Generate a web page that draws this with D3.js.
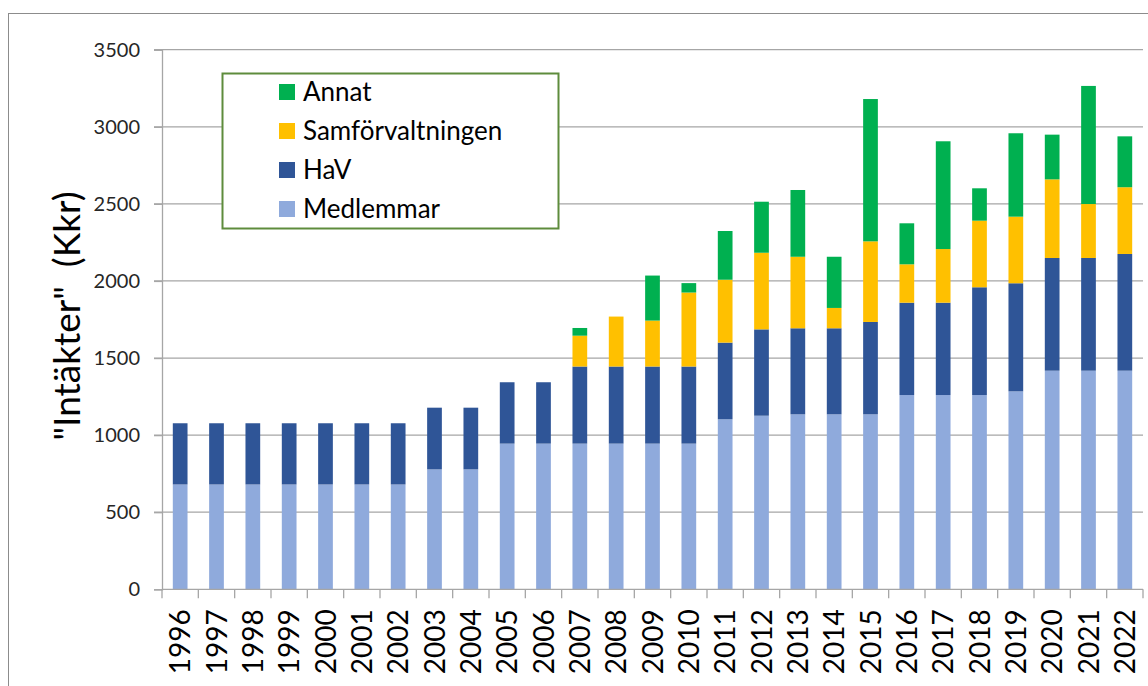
<!DOCTYPE html>
<html>
<head>
<meta charset="utf-8">
<script src="https://cdn.jsdelivr.net/npm/d3@7"></script>
<style>
  body { margin: 0; background: #fff; }
  svg { display: block; }
</style>
</head>
<body>
<div id="chart"></div>
<script>
// data (Kkr)
const years = ["1996","1997","1998","1999","2000","2001","2002","2003","2004","2005","2006","2007","2008","2009","2010","2011","2012","2013","2014","2015","2016","2017","2018","2019","2020","2021","2022"];
const medlemmar = [680,680,680,680,680,680,680,778,778,945,945,945,945,945,945,1103,1126,1135,1135,1135,1260,1260,1260,1284,1418,1418,1418];
const hav       = [397,397,397,397,397,397,397,400,400,398,398,500,500,500,500,497,560,558,558,599,599,599,699,701,731,731,757];
const samf      = [0,0,0,0,0,0,0,0,0,0,0,200,324,298,480,408,497,464,132,523,249,348,432,432,510,350,433];
const annat     = [0,0,0,0,0,0,0,0,0,0,0,50,0,292,61,316,331,433,332,923,266,699,210,541,290,766,330];
const yTicks = [0,500,1000,1500,2000,2500,3000,3500];

const seriesNames = ["Medlemmar","HaV","Samförvaltningen","Annat"];
const colors = {"Medlemmar":"#8FAADC","HaV":"#2F5597","Samförvaltningen":"#FFC000","Annat":"#00B050"};

const W = 1148, H = 686;
const plot = {left: 162, right: 1143, top: 49.7, bottom: 589.3};

const svg = d3.select("#chart").append("svg")
  .attr("width", W).attr("height", H);

// outer chart frame
svg.append("rect")
  .attr("x", 8.5).attr("y", 13.5)
  .attr("width", W + 20).attr("height", H + 20)
  .attr("fill", "#fff").attr("stroke", "#8c8c8c").attr("stroke-width", 1);

const x = d3.scaleBand()
  .domain(years)
  .range([plot.left, plot.right])
  .paddingInner(0.595).paddingOuter(0.2975);

const y = d3.scaleLinear()
  .domain([0, 3500])
  .range([plot.bottom, plot.top]);

// gridlines
svg.append("g")
  .selectAll("line")
  .data(yTicks.filter(d => d > 0))
  .join("line")
  .attr("x1", plot.left - 8).attr("x2", plot.right)
  .attr("y1", d => y(d)).attr("y2", d => y(d))
  .attr("stroke", "#a6a6a6").attr("stroke-width", 1.3);

// stacked bars
const table = years.map((yr, i) => ({
  year: yr,
  "Medlemmar": medlemmar[i],
  "HaV": hav[i],
  "Samförvaltningen": samf[i],
  "Annat": annat[i]
}));
const stacked = d3.stack().keys(seriesNames)(table);

svg.append("g")
  .selectAll("g")
  .data(stacked)
  .join("g")
  .attr("fill", d => colors[d.key])
  .selectAll("rect")
  .data(d => d.filter(s => s[1] > s[0]))
  .join("rect")
  .attr("x", d => x(d.data.year))
  .attr("width", x.bandwidth())
  .attr("y", d => y(d[1]))
  .attr("height", d => y(d[0]) - y(d[1]));

// y axis
const yAxis = svg.append("g")
  .attr("transform", `translate(${plot.left},0)`)
  .call(d3.axisLeft(y).tickValues(yTicks).tickSize(8).tickPadding(14).tickFormat(d3.format("d")));
yAxis.select(".domain").attr("stroke", "#a6a6a6").attr("stroke-width", 1.3);
yAxis.selectAll(".tick line").attr("stroke", "#a6a6a6").attr("stroke-width", 1.3);
yAxis.selectAll(".tick text")
  .attr("font-family", "Lato, 'Open Sans', sans-serif")
  .attr("font-size", 20).attr("fill", "#262626");

// x axis: ticks sit on category boundaries
const xAxisG = svg.append("g");
xAxisG.append("line")
  .attr("x1", plot.left).attr("x2", plot.right)
  .attr("y1", plot.bottom).attr("y2", plot.bottom)
  .attr("stroke", "#a6a6a6").attr("stroke-width", 1.3);
const step = x.step();
xAxisG.selectAll("line.tk")
  .data(years.concat(["end"]))
  .join("line")
  .attr("class", "tk")
  .attr("x1", (d, i) => plot.left + i * step)
  .attr("x2", (d, i) => plot.left + i * step)
  .attr("y1", plot.bottom).attr("y2", plot.bottom + 9)
  .attr("stroke", "#a6a6a6").attr("stroke-width", 1.3);
xAxisG.selectAll("text")
  .data(years)
  .join("text")
  .attr("transform", d => `translate(${x(d) + x.bandwidth() / 2},${plot.bottom + 20}) rotate(-90)`)
  .attr("text-anchor", "end")
  .attr("dy", "0.36em")
  .attr("font-family", "Lato, 'Open Sans', sans-serif")
  .attr("font-size", 28).attr("fill", "#000")
  .text(d => d);

// y title
svg.append("text")
  .attr("transform", `translate(80,316) rotate(-90)`)
  .attr("text-anchor", "middle")
  .attr("font-family", "Lato, 'Open Sans', sans-serif")
  .attr("font-size", 37).attr("fill", "#000")
  .style("white-space", "pre")
  .text('"Intäkter"  (Kkr)');

// legend
const legend = svg.append("g");
legend.append("rect")
  .attr("x", 222.5).attr("y", 73.5).attr("width", 336).attr("height", 155)
  .attr("fill", "#fff").attr("stroke", "#5e8c3c").attr("stroke-width", 2);
const legendOrder = ["Annat","Samförvaltningen","HaV","Medlemmar"];
const row = legend.selectAll("g")
  .data(legendOrder)
  .join("g")
  .attr("transform", (d, i) => `translate(279,${92 + i * 39})`);
row.append("rect")
  .attr("x", 0).attr("y", -8).attr("width", 16).attr("height", 16)
  .attr("fill", d => colors[d]);
row.append("text")
  .attr("x", 24).attr("dy", "0.36em")
  .attr("font-family", "Lato, 'Open Sans', sans-serif")
  .attr("font-size", 26).attr("fill", "#000")
  .text(d => d);
</script>
</body>
</html>
